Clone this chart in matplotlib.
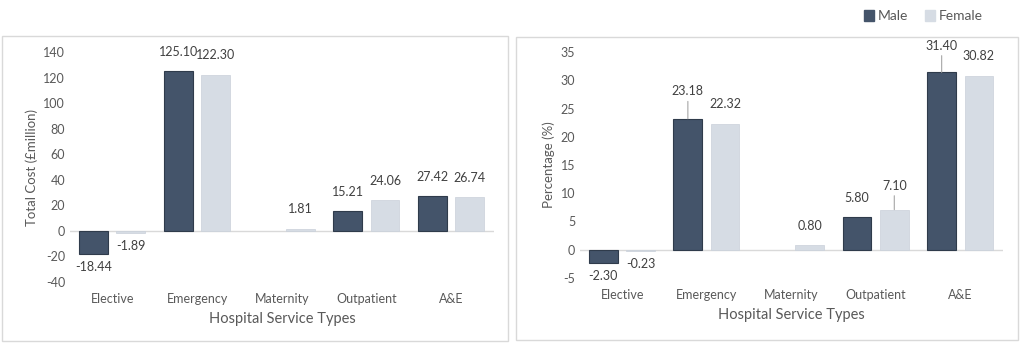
import numpy as np
import matplotlib.pyplot as plt
from matplotlib.patches import Rectangle, Patch

plt.rcParams['font.family'] = ['Lato', 'DejaVu Sans']
plt.rcParams['axes.unicode_minus'] = False

services = ['Elective', 'Emergency', 'Maternity', 'Outpatient', 'A&E']
male_cost = [-18.44, 125.10, np.nan, 15.21, 27.42]
female_cost = [-1.89, 122.30, 1.81, 24.06, 26.74]
male_pct = [-2.30, 23.18, np.nan, 5.80, 31.40]
female_pct = [-0.23, 22.32, 0.80, 7.10, 30.82]

dark = '#44546A'
light = '#D6DCE4'
txt = '#595959'

fig = plt.figure(figsize=(10.21, 3.44), dpi=100)

# panel borders
for x0, y0, x1, y1 in [(2, 36, 508, 341), (516, 37, 1018, 340)]:
    fig.patches.append(Rectangle((x0 / 1021, 1 - y1 / 344), (x1 - x0) / 1021, (y1 - y0) / 344,
                                 transform=fig.transFigure, fill=False, edgecolor='#D9D9D9', lw=1))

ax1 = fig.add_axes([70 / 1021, 1 - 282 / 344, 424 / 1021, 230 / 344])
ax2 = fig.add_axes([580 / 1021, 1 - 278 / 344, 423 / 1021, 226 / 344])

x = np.arange(len(services))
w = 0.34

def draw(ax, male, female, ylim, ticks, ylabel, leaders):
    bm = ax.bar(x - 0.225, male, w, color=dark, edgecolor='#2F3B4B', lw=0.8)
    bf = ax.bar(x + 0.215, female, w, color=light, edgecolor='#C9D0DA', lw=0.5)
    for bars, vals, key in [(bm, male, 'm'), (bf, female, 'f')]:
        for i, (b, v) in enumerate(zip(bars, vals)):
            if np.isnan(v):
                continue
            cx = b.get_x() + b.get_width() / 2
            if v >= 0:
                off = leaders.get((key, i), 9.5)
                ax.annotate(f'{v:.2f}', (cx, v), xytext=(0, off), textcoords='offset points',
                            ha='center', va='bottom', fontsize=9, color='#404040',
                            arrowprops=dict(arrowstyle='-', color='#A6A6A6', lw=0.8,
                                            shrinkA=1, shrinkB=0) if (key, i) in leaders else None)
            else:
                ax.annotate(f'{v:.2f}', (cx, v), xytext=(0, -5), textcoords='offset points',
                            ha='center', va='top', fontsize=9, color='#404040')
    ax.axhline(0, color='#D9D9D9', lw=1, zorder=0)
    ax.set_xlim(-0.5, len(services) - 0.5)
    ax.set_ylim(*ylim)
    ax.set_yticks(ticks)
    ax.set_xticks(x)
    ax.set_xticklabels(services)
    ax.tick_params(length=0, labelsize=9, labelcolor=txt)
    ax.tick_params(axis='x', pad=8)
    for s in ax.spines.values():
        s.set_visible(False)
    ax.set_ylabel(ylabel, fontsize=9.5, color=txt)
    ax.set_xlabel('Hospital Service Types', fontsize=10.5, color=txt, labelpad=5)

draw(ax1, male_cost, female_cost, (-40, 140), range(-40, 141, 20), 'Total Cost (£million)', {})
draw(ax2, male_pct, female_pct, (-5, 35), range(-5, 36, 5), 'Percentage (%)',
     {('m', 1): 15.5, ('m', 4): 15, ('f', 3): 13})

fig.legend(handles=[Patch(color=dark, label='Male'), Patch(color=light, label='Female')],
           loc='center right', bbox_to_anchor=(0.975, 0.953), ncol=2, frameon=False,
           fontsize=10, labelcolor=txt, handlelength=0.7, handleheight=0.9,
           handletextpad=0.3, columnspacing=1.2)

fig.savefig('out.png', dpi=100)
